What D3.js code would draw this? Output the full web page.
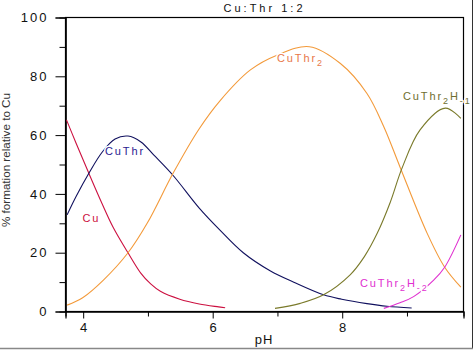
<!DOCTYPE html>
<html>
<head>
<meta charset="utf-8">
<script src="https://cdn.jsdelivr.net/npm/d3@7"></script>
<style>
  html, body { margin: 0; padding: 0; background: #fff; }
  svg { display: block; }
</style>
</head>
<body>
<div id="chart"></div>
<script>
// ---- data ----
const title = "Cu:Thr 1:2";
const xLabel = "pH";
const yLabel = "% formation relative to Cu";
const xTicks = [4, 6, 8];
const xMinorTicks = [5, 7, 9];
const yTicks = [0, 20, 40, 60, 80, 100];
const yMinorTicks = [10, 30, 50, 70, 90];

const cuPH   = [3.75, 3.9, 4.1, 4.3, 4.47, 4.7, 4.9, 5.05, 5.2, 5.5, 5.8, 6.1, 6.2];
const cuVal  = [65, 57, 46.6, 36.5, 28.5, 19.8, 12.8, 9.2, 6.7, 4.0, 2.4, 1.4, 1.1];

const cuThrPH  = [3.76, 3.9, 4.1, 4.3, 4.5, 4.7, 4.9, 5.1, 5.4, 5.8, 6.12, 6.48, 6.9, 7.26, 7.72, 8.0, 8.39, 8.7, 9.08];
const cuThrVal = [32.7, 39, 47, 54, 58.5, 59.5, 57.5, 53, 46, 35, 27.5, 19.8, 13.6, 9.8, 5.5, 4.0, 2.5, 1.6, 1.0];

const cuThr2PH  = [3.76, 4.0, 4.32, 4.7, 5.0, 5.4, 5.8, 6.12, 6.59, 7.0, 7.5, 7.98, 8.39, 8.65, 8.9, 9.32, 9.59, 9.84];
const cuThr2Val = [2, 4.5, 10.5, 19.8, 30, 47, 62, 71.5, 82, 87, 89.9, 84.2, 74, 62.7, 49, 26.4, 14.9, 8.1];

const cuThr2H1PH  = [6.97, 7.36, 7.72, 8.13, 8.35, 8.55, 8.75, 8.93, 9.21, 9.6, 9.84];
const cuThr2H1Val = [0.9, 2.6, 5.5, 12.3, 18.5, 26.5, 37, 48.5, 61.6, 69, 65.5];

const cuThr2H2PH  = [8.65, 8.9, 9.11, 9.42, 9.59, 9.84];
const cuThr2H2Val = [0.9, 2.8, 4.9, 10.5, 14.9, 25.9];

const seriesNames  = ["Cu", "CuThr", "CuThr2", "CuThr2H-1", "CuThr2H-2"];
const seriesPH     = [cuPH, cuThrPH, cuThr2PH, cuThr2H1PH, cuThr2H2PH];
const seriesVals   = [cuVal, cuThrVal, cuThr2Val, cuThr2H1Val, cuThr2H2Val];

// ---- layout / style ----
const W = 475, H = 350;
const plot = { left: 65, right: 463, top: 17, bottom: 311 };
const lineColors  = ["#cc1040", "#10105e", "#f39a3a", "#7a7a2a", "#e030d0"];
const labelColors = ["#cc1040", "#2a1a90", "#e8784a", "#6e6e30", "#e030d0"];
const labelPos = [
  { x: 82.5, y: 222, parts: [["Cu", 0]] },
  { x: 105, y: 155, parts: [["CuThr", 0]] },
  { x: 277, y: 62, parts: [["CuThr", 0], ["2", 1]] },
  { x: 403, y: 100, parts: [["CuThr", 0], ["2", 1], ["H", 0], ["-1", 1]] },
  { x: 360, y: 287, parts: [["CuThr", 0], ["2", 1], ["H", 0], ["-2", 1]] }
];

const svg = d3.select("#chart").append("svg")
  .attr("width", W).attr("height", H)
  .style("font-family", "'Liberation Sans', Arial, sans-serif");

const x = d3.scaleLinear().domain([3.727, 9.873]).range([plot.left, plot.right]);
const y = d3.scaleLinear().domain([0, 100]).range([plot.bottom, plot.top]);

// frame
svg.append("rect")
  .attr("x", plot.left + 0.5).attr("y", plot.top + 0.5)
  .attr("width", plot.right - plot.left).attr("height", plot.bottom - plot.top)
  .attr("fill", "none").attr("stroke", "#000").attr("stroke-width", 1.2);

// y axis
const yAxis = svg.append("g").attr("transform", `translate(${plot.left + 0.5},0.5)`)
  .call(d3.axisLeft(y).tickValues(yTicks).tickSize(10).tickPadding(5).tickFormat(d3.format("d")));
const yMinor = svg.append("g").attr("transform", `translate(${plot.left + 0.5},0.5)`)
  .call(d3.axisLeft(y).tickValues(yMinorTicks).tickSize(6).tickFormat(""));

// x axis
const xAxis = svg.append("g").attr("transform", `translate(0.5,${plot.bottom + 0.5})`)
  .call(d3.axisBottom(x).tickValues(xTicks).tickSize(7).tickPadding(4).tickFormat(d3.format("d")));
const xMinor = svg.append("g").attr("transform", `translate(0.5,${plot.bottom + 0.5})`)
  .call(d3.axisBottom(x).tickValues(xMinorTicks).tickSize(5).tickFormat(""));

[yAxis, yMinor, xAxis, xMinor].forEach(g => {
  g.select(".domain").attr("stroke", "#000").attr("stroke-width", 1.2);
  g.selectAll(".tick line").attr("stroke", "#000").attr("stroke-width", 1);
  g.selectAll("text").attr("fill", "#111").style("font-size", "13px")
    .style("letter-spacing", "2px")
    .style("font-family", "'Liberation Sans', Arial, sans-serif");
});
yAxis.selectAll("text").attr("dx", "-2px");
xAxis.selectAll("text").attr("dx", "1px");

// curves
const line = d3.line().x(d => x(d[0])).y(d => y(d[1])).curve(d3.curveCatmullRom.alpha(0.5));
seriesNames.forEach((name, i) => {
  const pts = seriesPH[i].map((p, j) => [p, seriesVals[i][j]]);
  svg.append("path").datum(pts)
    .attr("d", line)
    .attr("fill", "none")
    .attr("stroke", lineColors[i])
    .attr("stroke-width", 1.1);
});

// curve labels
labelPos.forEach((lp, i) => {
  const t = svg.append("text")
    .attr("x", lp.x).attr("y", lp.y)
    .attr("fill", labelColors[i])
    .style("font-size", "11px")
    .style("letter-spacing", "1.9px")
    .attr("stroke", "#fff").attr("stroke-width", 3)
    .attr("paint-order", "stroke")
    .attr("stroke-linejoin", "round");
  lp.parts.forEach(([txt, sub]) => {
    const ts = t.append("tspan").text(txt);
    if (sub) ts.attr("dy", 4).style("font-size", "9px");
    else if (t.selectAll("tspan").size() > 1) ts.attr("dy", -4);
  });
});

// title
svg.append("text")
  .attr("x", 263).attr("y", 11.5)
  .attr("text-anchor", "middle")
  .attr("textLength", 79).attr("lengthAdjust", "spacing")
  .style("font-size", "11px").attr("fill", "#111")
  .text(title);

// x label
svg.append("text")
  .attr("x", 264).attr("y", 344)
  .attr("text-anchor", "middle")
  .style("font-size", "13px").style("letter-spacing", "1px").attr("fill", "#111")
  .text(xLabel);

// y label
svg.append("text")
  .attr("transform", "translate(10,160) rotate(-90)")
  .attr("text-anchor", "middle")
  .attr("textLength", 134).attr("lengthAdjust", "spacingAndGlyphs")
  .style("font-size", "10px").attr("fill", "#333")
  .text(yLabel);

// outer window edges
svg.append("line").attr("x1", 472.5).attr("x2", 472.5).attr("y1", 0).attr("y2", 349)
  .attr("stroke", "#333").attr("stroke-width", 1);
svg.append("line").attr("x1", 0).attr("x2", 473).attr("y1", 348.5).attr("y2", 348.5)
  .attr("stroke", "#888").attr("stroke-width", 1.5);
</script>
</body>
</html>
